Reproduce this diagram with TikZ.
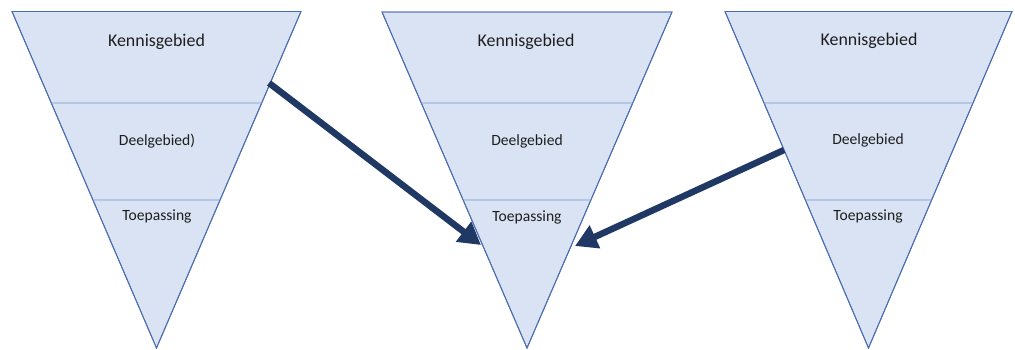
\documentclass[tikz,border=0pt]{standalone}
\usepackage{fontspec}
\setmainfont{Carlito}
\usetikzlibrary{arrows.meta,calc}

\definecolor{funnelfill}{HTML}{DAE3F3}
\definecolor{funneledge}{HTML}{4A6DB0}
\definecolor{funnelsplit}{HTML}{B4C7E7}
\definecolor{arrowblue}{HTML}{1F3864}
\definecolor{labeltext}{HTML}{1E1E1E}

\tikzset{
  funnel/.style={fill=funnelfill, draw=funneledge, line width=0.9pt, line join=miter},
  divider/.style={draw=funnelsplit, line width=1.3pt},
  toplabel/.style={text=labeltext, font=\fontsize{17.9}{20}\selectfont, inner sep=0pt},
  sublabel/.style={text=labeltext, font=\fontsize{15.6}{18}\selectfont, inner sep=0pt},
  flow/.style={draw=arrowblue, line width=6.5pt,
    -{Triangle[length=22pt,width=24pt]}}
}

% #1 name, #2 left x, #3 right x, #4 top y; apex at y=348
\newcommand\funnelshape[4]{%
  \coordinate (#1-tl) at (#2,#4);
  \coordinate (#1-tr) at (#3,#4);
  \coordinate (#1-ap) at ({(#2+#3)/2},348);
  \fill[funnel] (#1-tl) -- (#1-tr) -- (#1-ap) -- cycle;
  \draw[divider] ($(#1-tl)!{(103-#4)/(348-#4)}!(#1-ap)$) -- ($(#1-tr)!{(103-#4)/(348-#4)}!(#1-ap)$);
  \draw[divider] ($(#1-tl)!{(200-#4)/(348-#4)}!(#1-ap)$) -- ($(#1-tr)!{(200-#4)/(348-#4)}!(#1-ap)$);
  \draw[funnel, fill=none] (#1-tl) -- (#1-tr) -- (#1-ap) -- cycle;
}

\begin{document}
\begin{tikzpicture}[x=1pt, y=-1pt]
  \useasboundingbox (0,0) rectangle (1015,349);

  \funnelshape{fa}{12}{301}{11.5}
  \funnelshape{fb}{382}{672}{12}
  \funnelshape{fc}{725}{1012}{11.5}

  % level labels
  \node[toplabel] (ka) at (156.5,41.5) {Kennisgebied};
  \node[sublabel] (da) at (157,141) {Deelgebied)};
  \node[sublabel] (ta) at (157,216) {Toepassing};

  \node[toplabel] (kb) at (526,42) {Kennisgebied};
  \node[sublabel] (db) at (527,141) {Deelgebied};
  \node[sublabel] (tb) at (527,217) {Toepassing};

  \node[toplabel] (kc) at (869,41) {Kennisgebied};
  \node[sublabel] (dc) at (868,140) {Deelgebied};
  \node[sublabel] (tc) at (868,216) {Toepassing};

  % connectors between the funnels
  \coordinate (srcA) at (269,83);
  \coordinate (dstA) at (481,245);
  \coordinate (srcC) at (784,150);
  \coordinate (dstC) at (575,246);
  \draw[flow] (srcA) -- (dstA);
  \draw[flow] (srcC) -- (dstC);
\end{tikzpicture}
\end{document}
